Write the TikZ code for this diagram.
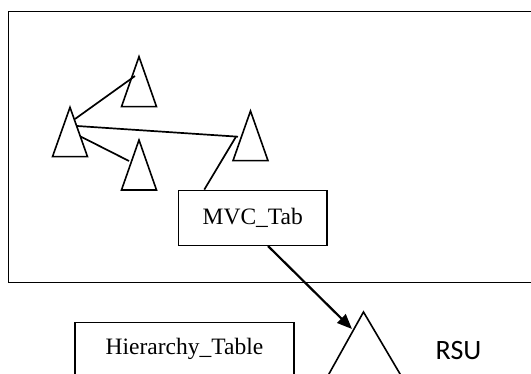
\documentclass[tikz,border=0pt]{standalone}
\usepackage{fontspec}
\setmainfont{Liberation Serif}
\newfontfamily\rsufont{Carlito}
\usetikzlibrary{arrows.meta}
\begin{document}
\begin{tikzpicture}[x=1pt,y=-1pt,
  frame/.style={draw,line width=1.4pt},
  tablebox/.style={draw,line width=1.4pt,inner sep=0pt,font=\fontsize{23.5}{26}\selectfont},
  tri/.style={draw,line width=1.6pt,line join=miter},
  link/.style={line width=1.7pt},
  arrowlink/.style={line width=2.2pt,-{Triangle[length=15pt,width=12pt]}}]
\clip (0,0) rectangle (531,374);
\fill[white] (0,0) rectangle (531,374);
% outer frame
\draw[frame] (8.5,11.7) rectangle (545,282.7);
% triangles
\draw[tri] (139,56.7) -- (156.5,106.7) -- (121.5,106.7) -- cycle;
\draw[tri] (70,107.3) -- (87.5,156.7) -- (52.5,156.7) -- cycle;
\draw[tri] (139,140) -- (156.5,190) -- (121.5,190) -- cycle;
\draw[tri] (250.5,111) -- (268,160.7) -- (233,160.7) -- cycle;
\draw[tri] (363.5,312) -- (409.5,390) -- (320,390) -- cycle;
% connector points
\coordinate (t2a) at (75,119);
\coordinate (t1a) at (135,76);
\coordinate (t2b) at (77,126);
\coordinate (t4a) at (238,136.7);
\coordinate (t2c) at (81,136.7);
\coordinate (t3a) at (129,161);
\coordinate (t4b) at (236,136.7);
\coordinate (rsuin) at (352,329);
% tables
\node[tablebox,minimum width=148.5pt,minimum height=55pt] (mvc) at (252.75,217.8) {MVC\_Tab};
\node[tablebox,minimum width=219pt,minimum height=54pt] (hier) at (184.5,349.3) {Hierarchy\_Table};
\node[font=\rsufont\fontsize{28}{30}\selectfont,inner sep=0pt] (rsu) at (458.5,351) {RSU};
% connectors
\draw[link] (t2a) -- (t1a);
\draw[link] (t2b) -- (t4a);
\draw[link] (t2c) -- (t3a);
\draw[link] ([xshift=26.5pt]mvc.north west) -- (t4b);
\draw[arrowlink] ([xshift=15.25pt]mvc.south) -- (rsuin);
\end{tikzpicture}
\end{document}
